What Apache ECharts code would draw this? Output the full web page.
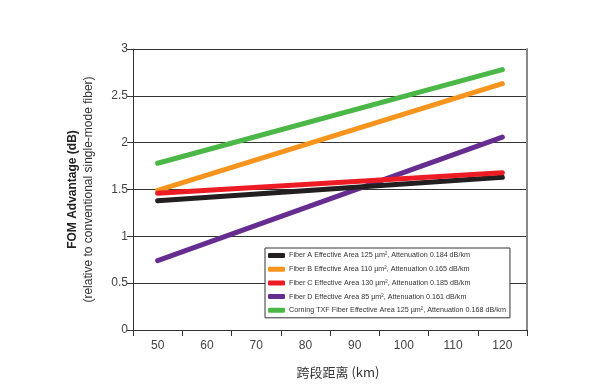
<!DOCTYPE html>
<html>
<head>
<meta charset="utf-8">
<script src="https://cdn.jsdelivr.net/npm/echarts@6/dist/echarts.min.js"></script>
<style>
html,body{margin:0;padding:0;background:#fff;}
#chart{width:607px;height:386px;}
</style>
</head>
<body>
<div id="chart"></div>
<script>
// Data
var distances = ['50', '60', '70', '80', '90', '100', '110', '120'];
var endpoints = ['50', '120'];
var seriesNames = [
  'Fiber A Effective Area 125 µm², Attenuation 0.184 dB/km',
  'Fiber B Effective Area 110 µm², Attenuation 0.165 dB/km',
  'Fiber C Effective Area 130 µm², Attenuation 0.185 dB/km',
  'Fiber D Effective Area 85 µm², Attenuation 0.161 dB/km',
  'Corning TXF Fiber Effective Area 125 µm², Attenuation 0.168 dB/km'
];
var fiberA = [1.38, 1.63];
var fiberB = [1.49, 2.63];
var fiberC = [1.46, 1.68];
var fiberD = [0.74, 2.06];
var corningTXF = [1.78, 2.78];
var yTicks = [0, 0.5, 1, 1.5, 2, 2.5, 3];

var colors = ['#231f20', '#f7941d', '#ed1c24', '#662d91', '#4bb747'];
var zs = [3, 2, 4, 1, 2];
var values = [fiberA, fiberB, fiberC, fiberD, corningTXF];

function pairs(v) {
  return endpoints.map(function (d, i) { return [d, v[i]]; });
}

var font = '"Liberation Sans", Arial, sans-serif';
var chart = echarts.init(document.getElementById('chart'), null, {renderer: 'canvas'});

var series = seriesNames.map(function (n, i) {
  return {
    name: n,
    type: 'line',
    data: pairs(values[i]),
    showSymbol: false,
    symbol: 'none',
    z: zs[i],
    lineStyle: {color: colors[i], width: 5, cap: 'round'},
    itemStyle: {color: colors[i]},
    animation: false
  };
});

chart.setOption({
  animation: false,
  grid: {left: 133, right: 80, top: 49, bottom: 56},
  legend: {
    data: seriesNames,
    orient: 'vertical',
    left: 265,
    top: 248,
    padding: [4, 4, 4, 3],
    itemGap: 6.7,
    itemWidth: 17,
    itemHeight: 5,
    icon: 'roundRect',
    backgroundColor: '#fff',
    borderColor: '#333',
    borderWidth: 1,
    borderRadius: 0,
    textStyle: {fontFamily: font, fontSize: 7.2, color: '#333', padding: [0, 0, 0, -1]}
  },
  xAxis: {
    type: 'category',
    data: distances,
    boundaryGap: true,
    name: '跨段距离 (km)',
    nameLocation: 'middle',
    nameGap: 36,
    nameTextStyle: {fontFamily: '"Noto Sans CJK SC", sans-serif', fontSize: 13, color: '#333', padding: [0, 0, 0, 16]},
    axisLine: {show: true, lineStyle: {color: '#333', width: 1}},
    axisTick: {show: true, inside: false, length: 6, lineStyle: {color: '#333'}},
    axisLabel: {fontFamily: font, fontSize: 12, color: '#444', margin: 10},
    splitLine: {show: false}
  },
  yAxis: [{
    type: 'value',
    min: 0,
    max: 3,
    interval: 0.5,
    name: '{a|FOM Advantage (dB)}\n{b|(relative to conventional single-mode fiber)}',
    nameLocation: 'middle',
    nameGap: 36,
    nameRotate: 90,
    nameTextStyle: {
      fontFamily: font,
      color: '#222',
      rich: {
        a: {fontFamily: font, fontSize: 12, fontWeight: 'bold', color: '#222', lineHeight: 17},
        b: {fontFamily: font, fontSize: 12, color: '#333', lineHeight: 16}
      }
    },
    axisLine: {show: true, lineStyle: {color: '#333', width: 1}},
    axisTick: {show: true, inside: false, length: 6, lineStyle: {color: '#333'}},
    axisLabel: {fontFamily: font, fontSize: 12, color: '#444', margin: 5,
      formatter: function (v) { return String(v); }},
    splitLine: {show: true, lineStyle: {color: '#333', width: 1}}
  }, {
    type: 'value',
    min: 0,
    max: 3,
    interval: 0.5,
    position: 'right',
    axisLine: {show: true, lineStyle: {color: '#888', width: 2}},
    axisTick: {show: false},
    axisLabel: {show: false},
    splitLine: {show: false}
  }],
  series: series
});
</script>
</body>
</html>
